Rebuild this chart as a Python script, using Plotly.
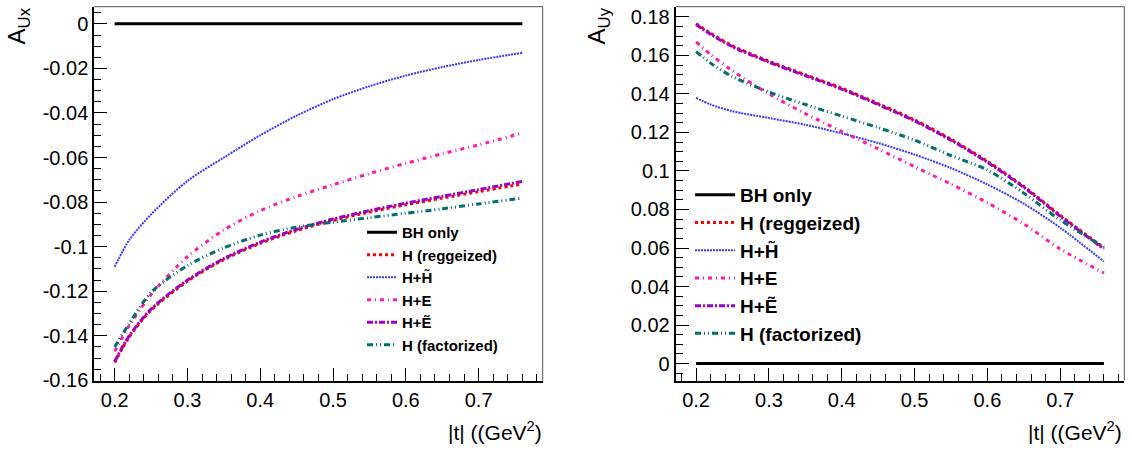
import plotly.graph_objects as go

# ---------------- data ----------------
t_vals = [0.2, 0.22, 0.25, 0.3, 0.35, 0.4, 0.45, 0.5, 0.55, 0.6, 0.65, 0.7, 0.76]

# A_Ux (left panel)
aux_bh = [0.0] * 13
aux_h_regg = [-0.152, -0.1405, -0.1285, -0.1155, -0.1058, -0.0985, -0.0928, -0.0882, -0.0845, -0.0812, -0.0782, -0.0753, -0.0718]
aux_h_ht = [-0.109, -0.097, -0.0855, -0.0705, -0.060, -0.050, -0.0412, -0.0338, -0.028, -0.0232, -0.0194, -0.0162, -0.013]
aux_h_e = [-0.147, -0.1355, -0.1215, -0.1045, -0.0925, -0.0838, -0.0775, -0.0722, -0.0672, -0.0626, -0.0583, -0.0543, -0.049]
aux_h_et = [-0.1515, -0.140, -0.128, -0.1150, -0.1053, -0.0980, -0.0922, -0.0876, -0.0838, -0.0805, -0.0774, -0.0744, -0.0707]
aux_h_fact = [-0.145, -0.1345, -0.1205, -0.1085, -0.1005, -0.0948, -0.0912, -0.0890, -0.0870, -0.0850, -0.0830, -0.0808, -0.0782]

# A_Uy (right panel)
auy_bh = [0.0] * 13
auy_h_regg = [0.1765, 0.1715, 0.165, 0.157, 0.150, 0.143, 0.135, 0.1265, 0.1165, 0.105, 0.092, 0.077, 0.060]
auy_h_ht = [0.138, 0.1345, 0.131, 0.1275, 0.124, 0.1195, 0.1145, 0.1085, 0.1015, 0.093, 0.083, 0.0705, 0.053]
auy_h_e = [0.167, 0.1605, 0.152, 0.140, 0.1298, 0.1205, 0.1115, 0.1022, 0.0932, 0.0835, 0.0725, 0.0595, 0.047]
auy_h_et = [0.176, 0.171, 0.1645, 0.1565, 0.1495, 0.1425, 0.1345, 0.126, 0.116, 0.1045, 0.0915, 0.0765, 0.0595]
auy_h_fact = [0.162, 0.156, 0.149, 0.141, 0.1345, 0.1285, 0.1225, 0.116, 0.108, 0.1005, 0.0885, 0.0745, 0.0605]

series_names = ["BH only", "H (reggeized)", "H+H\u0303", "H+E", "H+\u1EBC", "H (factorized)"]

x_tickvals = [0.2, 0.3, 0.4, 0.5, 0.6, 0.7]
x_ticktext = ["0.2", "0.3", "0.4", "0.5", "0.6", "0.7"]
yl_tickvals = [0, -0.02, -0.04, -0.06, -0.08, -0.1, -0.12, -0.14, -0.16]
yl_ticktext = ["0", "-0.02", "-0.04", "-0.06", "-0.08", "-0.1", "-0.12", "-0.14", "-0.16"]
yr_tickvals = [0, 0.02, 0.04, 0.06, 0.08, 0.1, 0.12, 0.14, 0.16, 0.18]
yr_ticktext = ["0", "0.02", "0.04", "0.06", "0.08", "0.1", "0.12", "0.14", "0.16", "0.18"]

# ---------------- styles ----------------
styles = [
    dict(color="black", width=3, dash="solid"),
    dict(color="#ff0000", width=3, dash="3px,3px"),
    dict(color="#3a3aff", width=2, dash="2px,1px"),
    dict(color="#ff1aa8", width=3, dash="4px,4px,1px,4px"),
    dict(color="#9900cc", width=3, dash="6px,2px,2px,2px"),
    dict(color="#006e6e", width=3, dash="6px,3px,1px,3px,1px,3px"),
]

W, H = 1132, 456
NARROW = "Liberation Sans Narrow, Arial Narrow, Liberation Sans, Arial"
REG = "Liberation Sans, Arial"

fig = go.Figure()

left_sets = [aux_bh, aux_h_regg, aux_h_ht, aux_h_e, aux_h_et, aux_h_fact]
right_sets = [auy_bh, auy_h_regg, auy_h_ht, auy_h_e, auy_h_et, auy_h_fact]

for name, ys, st in zip(series_names, left_sets, styles):
    fig.add_trace(go.Scatter(x=t_vals, y=ys, mode="lines", name=name,
                             line=dict(shape="spline", smoothing=0.8, **st),
                             xaxis="x", yaxis="y", legend="legend"))
for name, ys, st in zip(series_names, right_sets, styles):
    fig.add_trace(go.Scatter(x=t_vals, y=ys, mode="lines", name=name,
                             line=dict(shape="spline", smoothing=0.8, **st),
                             xaxis="x2", yaxis="y2", legend="legend2"))

xl0, xl1 = 94.3 / W, 542.7 / W
xr0, xr1 = 675.7 / W, 1124.3 / W
yb, yt = 1 - 380.5 / H, 1 - 6.7 / H


def xaxis(domain, anchor):
    return dict(domain=domain, anchor=anchor, range=[0.172, 0.788], tickmode="array",
                tickvals=x_tickvals, ticktext=x_ticktext, ticks="inside", ticklen=13, tickwidth=1,
                tickcolor="black", showline=True, linecolor="black", linewidth=2, mirror=False,
                showgrid=False, zeroline=False, tickfont=dict(family=NARROW, size=20, color="black"),
                minor=dict(tickmode="linear", tick0=0.2, dtick=0.02, ticks="inside", ticklen=7,
                           tickcolor="black", tickwidth=1, showgrid=False),
                automargin=False)


def yaxis(domain, anchor, rng, tv, tt):
    return dict(domain=domain, anchor=anchor, range=rng, tickmode="array", tickvals=tv, ticktext=tt,
                ticks="inside", ticklen=13, tickwidth=1, tickcolor="black", showline=True,
                linecolor="black", linewidth=2, mirror=False, showgrid=False, zeroline=False,
                tickfont=dict(family=NARROW, size=20, color="black"),
                minor=dict(tickmode="linear", tick0=0, dtick=0.005, ticks="inside", ticklen=7,
                           tickcolor="black", tickwidth=1, showgrid=False),
                automargin=False)


fig.update_layout(
    width=W, height=H, autosize=False,
    margin=dict(l=0, r=0, t=0, b=0),
    paper_bgcolor="white", plot_bgcolor="white",
    xaxis=xaxis([xl0, xl1], "y"),
    yaxis=yaxis([yb, yt], "x", [-0.16006, 0.0077], yl_tickvals, yl_ticktext),
    xaxis2=xaxis([xr0, xr1], "y2"),
    yaxis2=yaxis([yb, yt], "x2", [-0.0088, 0.1853], yr_tickvals, yr_ticktext),
    legend=dict(x=362 / W, y=1 - 216 / H, xanchor="left", yanchor="top", bgcolor="rgba(0,0,0,0)",
                font=dict(family=NARROW, size=15, color="black", weight="bold"), tracegroupgap=0,
                itemwidth=30),
    legend2=dict(x=690 / W, y=1 - 176 / H, xanchor="left", yanchor="top", bgcolor="rgba(0,0,0,0)",
                 font=dict(family=NARROW, size=19, color="black", weight="bold"), tracegroupgap=0,
                 itemwidth=40),
    showlegend=True,
)

# thin frame (top and right sides)
for xr_, yr_ in [("x domain", "y domain"), ("x2 domain", "y2 domain")]:
    fig.add_shape(type="line", xref=xr_, yref=yr_, x0=0, x1=1, y0=1, y1=1, line=dict(color="#555", width=1))
    fig.add_shape(type="line", xref=xr_, yref=yr_, x0=1, x1=1, y0=0, y1=1, line=dict(color="#555", width=1))

# axis titles
fig.add_annotation(text="A<sub>Ux</sub>", xref="paper", yref="paper", x=18 / W, y=1 - 6 / H,
                   xanchor="center", yanchor="top", textangle=-90, showarrow=False,
                   font=dict(family=NARROW, size=24, color="black"))
fig.add_annotation(text="A<sub>Uy</sub>", xref="paper", yref="paper", x=(580 + 18) / W, y=1 - 6 / H,
                   xanchor="center", yanchor="top", textangle=-90, showarrow=False,
                   font=dict(family=NARROW, size=24, color="black"))
fig.add_annotation(text="|t| ((GeV<sup>2</sup>)", xref="paper", yref="paper", x=544 / W, y=1 - 446 / H,
                   xanchor="right", yanchor="bottom", showarrow=False,
                   font=dict(family=REG, size=21, color="black"))
fig.add_annotation(text="|t| ((GeV<sup>2</sup>)", xref="paper", yref="paper", x=1124 / W, y=1 - 446 / H,
                   xanchor="right", yanchor="bottom", showarrow=False,
                   font=dict(family=REG, size=21, color="black"))

fig.write_html("out.html")
